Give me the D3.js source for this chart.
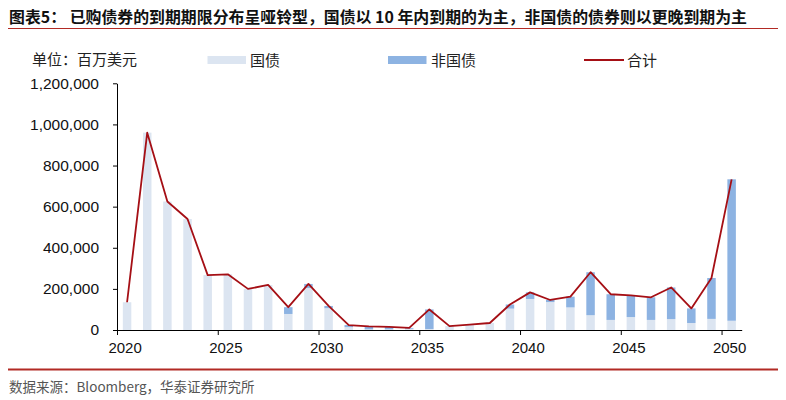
<!DOCTYPE html>
<html>
<head>
<meta charset="utf-8">
<script src="https://cdn.jsdelivr.net/npm/d3@7"></script>
<style>
  html, body { margin: 0; padding: 0; background: #fff; }
  svg { display: block; }
  text { font-family: "Liberation Sans", Arial, "Noto Sans CJK SC", sans-serif; }
  .cjk { font-family: "Noto Sans CJK SC", "Liberation Sans", sans-serif; }
</style>
</head>
<body>
<svg id="chart" width="786" height="400"></svg>
<script>
// ---- data (millions USD) ----
const years = [2020,2021,2022,2023,2024,2025,2026,2027,2028,2029,2030,2031,2032,2033,2034,2035,2036,2037,2038,2039,2040,2041,2042,2043,2044,2045,2046,2047,2048,2049,2050];
const govBonds = [135000,960000,625000,540000,267000,271000,200000,219000,78000,204000,106000,14000,3000,3000,6000,5000,19000,26000,34000,104000,151000,136000,110000,72000,49000,63000,49000,53000,34000,54000,45000];
const nonGovBonds = [0,0,0,0,0,0,0,0,33000,20000,11000,10000,15000,12000,4000,95000,0,0,0,20000,32000,10000,52000,209000,125000,105000,110000,154000,71000,199000,688000];
const totals = [135000,960000,625000,540000,267000,271000,200000,219000,111000,224000,117000,24000,18000,15000,10000,100000,19000,26000,34000,124000,183000,146000,162000,281000,174000,168000,159000,207000,105000,253000,733000];
const yTicks = [0,200000,400000,600000,800000,1000000,1200000];
const xTickYears = [2020,2025,2030,2035,2040,2045,2050];
const seriesNames = ["国债","非国债","合计"];
const titleText = "图表5：  已购债券的到期期限分布呈哑铃型，国债以 10 年内到期的为主，非国债的债券则以更晚到期为主";
const unitText = "单位：百万美元";
const sourceText = "数据来源：Bloomberg，华泰证券研究所";

const colGov = "#dce5f1";
const colNon = "#8db3e2";
const colLine = "#a50f15";
const colRed = "#b22a24";

const svg = d3.select("#chart");

// header
svg.append("text").attr("class","cjk").attr("x",9).attr("y",23)
  .attr("font-size",15.5).attr("font-weight","bold").attr("fill","#111")
  .attr("textLength",738).attr("lengthAdjust","spacingAndGlyphs")
  .text(titleText);
svg.append("line").attr("x1",8).attr("x2",778).attr("y1",28.5).attr("y2",28.5)
  .attr("stroke",colRed).attr("stroke-width",1.2);

// scales
const x = d3.scaleLinear().domain([2020, 2051]).range([117, 741.7]);
const step = x(2021) - x(2020);
const y = d3.scaleLinear().domain([0, 1200000]).range([330, 83.3]);
const barW = 8.5;

// bars
const g = svg.append("g");
g.selectAll("rect.gov").data(years).join("rect").attr("class","gov")
  .attr("x", (d) => x(d) + step/2 - barW/2)
  .attr("width", barW)
  .attr("y", (d,i) => y(govBonds[i]))
  .attr("height", (d,i) => y(0) - y(govBonds[i]))
  .attr("fill", colGov);
g.selectAll("rect.non").data(years).join("rect").attr("class","non")
  .attr("x", (d) => x(d) + step/2 - barW/2)
  .attr("width", barW)
  .attr("y", (d,i) => y(govBonds[i] + nonGovBonds[i]))
  .attr("height", (d,i) => y(govBonds[i]) - y(govBonds[i] + nonGovBonds[i]))
  .attr("fill", colNon);

// line
const line = d3.line().x((d) => x(d) + step/2).y((d,i) => y(totals[i]));
g.append("path").datum(years).attr("d", line)
  .attr("fill","none").attr("stroke",colLine).attr("stroke-width",1.8)
  .attr("stroke-linejoin","round");

// y axis
const yAxis = d3.axisLeft(y).tickValues(yTicks).tickFormat(d3.format(",")).tickSize(4).tickSizeOuter(0);
const ya = svg.append("g").attr("transform","translate(117,0)").call(yAxis);
ya.select(".domain").attr("stroke","#000");
ya.selectAll(".tick line").attr("stroke","#000");
ya.selectAll(".tick text").attr("font-size",15.5).attr("fill","#111").attr("x",-18)
  .attr("font-family","'Liberation Sans', Arial, sans-serif");

// x axis
const xAxis = d3.axisBottom(x).tickValues(xTickYears).tickFormat(d3.format("d")).tickSize(5).tickSizeOuter(0);
const xa = svg.append("g").attr("transform","translate(0,330)").call(xAxis);
xa.select(".domain").attr("stroke","#000");
xa.selectAll(".tick line").attr("stroke","#000");
xa.selectAll(".tick text").attr("font-size",15).attr("fill","#111")
  .attr("x", step/2 - 2.5).attr("dy","1.0em")
  .attr("font-family","'Liberation Sans', Arial, sans-serif");

// legend
svg.append("text").attr("class","cjk").attr("x",32).attr("y",65).attr("font-size",15).attr("fill","#222").text(unitText);
svg.append("rect").attr("x",207.5).attr("y",56).attr("width",38.5).attr("height",8).attr("fill",colGov);
svg.append("text").attr("class","cjk").attr("x",250).attr("y",66).attr("font-size",15).attr("fill","#222").text(seriesNames[0]);
svg.append("rect").attr("x",388).attr("y",56).attr("width",38.5).attr("height",8).attr("fill",colNon);
svg.append("text").attr("class","cjk").attr("x",431).attr("y",66).attr("font-size",15).attr("fill","#222").text(seriesNames[1]);
svg.append("line").attr("x1",584).attr("x2",624).attr("y1",60).attr("y2",60).attr("stroke",colLine).attr("stroke-width",2);
svg.append("text").attr("class","cjk").attr("x",627).attr("y",66).attr("font-size",15).attr("fill","#222").text(seriesNames[2]);

// footer
svg.append("line").attr("x1",8).attr("x2",778).attr("y1",369.5).attr("y2",369.5)
  .attr("stroke",colRed).attr("stroke-width",2.2);
svg.append("text").attr("class","cjk").attr("x",9).attr("y",392).attr("font-size",13.5).attr("fill","#555").text(sourceText);
</script>
</body>
</html>
